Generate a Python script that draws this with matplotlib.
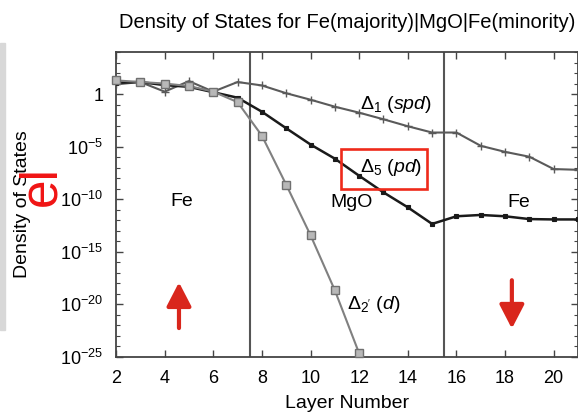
import matplotlib
matplotlib.use("Agg")
import matplotlib.pyplot as plt
import matplotlib.ticker as mticker
from matplotlib.patches import Rectangle
import numpy as np

plt.rcParams['font.family'] = ['Liberation Sans', 'DejaVu Sans']
plt.rcParams['mathtext.fontset'] = 'custom'
plt.rcParams['mathtext.rm'] = 'Liberation Sans'
plt.rcParams['mathtext.it'] = 'Liberation Sans:italic'
plt.rcParams['mathtext.bf'] = 'Liberation Sans:bold'

# ---- data ----
layers_d1 = [2, 3, 4, 5, 6, 7, 8, 9, 10, 11, 12, 13, 14, 15, 16, 17, 18, 19, 20, 21]
dos_d1 = [8.3, 14, 1.7, 17, 1.7, 14, 6.6, 1.2, 2.9e-1, 6.3e-2, 1.7e-2, 4.0e-3,
          8.7e-4, 2.2e-4, 2.2e-4, 1.2e-5, 3.2e-6, 1.1e-6, 7.4e-8, 6.3e-8]

layers_d5 = [2, 3, 4, 5, 6, 7, 8, 9, 10, 11, 12, 13, 14, 15, 16, 17, 18, 19, 20, 21]
dos_d5 = [12, 14, 7.1, 4.9, 1.5, 4.5e-1, 2.1e-2, 5.6e-4, 1.6e-5, 7.2e-7, 1.7e-8,
          4.5e-10, 1.7e-11, 4.5e-13, 2.4e-12, 3.2e-12, 2.4e-12, 1.3e-12, 1.2e-12, 1.2e-12]

layers_d2 = [2, 3, 4, 5, 6, 7, 8, 9, 10, 11, 12]
dos_d2 = [20, 14, 10, 5.8, 1.7, 1.7e-1, 1.1e-4, 2.4e-9, 3.8e-14, 2.2e-19, 2.2e-25]

x_ticks = [2, 4, 6, 8, 10, 12, 14, 16, 18, 20]
y_ticks = [1e-25, 1e-20, 1e-15, 1e-10, 1e-5, 1]
y_ticklabels = [r'$10^{-25}$', r'$10^{-20}$', r'$10^{-15}$', r'$10^{-10}$', r'$10^{-5}$', '1']
interfaces = [7.5, 15.5]

W, H = 578, 419
fig = plt.figure(figsize=(W / 100, H / 100), dpi=100)
ax = fig.add_axes([116 / W, (H - 357) / H, 462 / W, 305 / H])

# grey strip at left edge
fig.patches.append(Rectangle((0, (H - 330) / H), 5 / W, 287 / H,
                             transform=fig.transFigure, color='#d8d8d8', zorder=0))

ax.plot(layers_d1, dos_d1, color='#5a5a5a', lw=1.5, marker='+', ms=6, mew=1.0, zorder=3)
ax.plot(layers_d5, dos_d5, color='#1a1a1a', lw=1.8, marker='s', ms=3.5, mew=0.8, zorder=4)
ax.plot(layers_d2, dos_d2, color='#808080', lw=1.5, marker='s', ms=5.5, mfc='#b8b8b8',
        mec='#707070', mew=1.0, zorder=5, clip_on=False)

for xv in interfaces:
    ax.axvline(xv, color='#555555', lw=1.5, zorder=2)

ax.set_yscale('log')
ax.set_xlim(2, 21)
ax.set_ylim(1e-25, 1e4)
ax.xaxis.set_major_locator(mticker.FixedLocator(x_ticks))
ax.xaxis.set_minor_locator(mticker.NullLocator())
ax.yaxis.set_major_locator(mticker.FixedLocator(y_ticks))
ax.yaxis.set_major_formatter(mticker.FixedFormatter(y_ticklabels))
ax.yaxis.set_minor_locator(mticker.LogLocator(base=10, subs=(1.0,), numticks=100))
ax.yaxis.set_minor_formatter(mticker.NullFormatter())
ax.tick_params(which='both', direction='in', top=True, right=True, color='#444444')
ax.tick_params(which='major', length=5, width=1.0, labelsize=13, pad=9)
ax.tick_params(which='minor', length=3, width=0.8)
for s in ax.spines.values():
    s.set_color('#444444')
    s.set_linewidth(1.3)

ax.set_xlabel('Layer Number', fontsize=14, labelpad=6)
ax.set_ylabel('Density of States', fontsize=14)
ax.yaxis.set_label_coords(-0.183, 0.5)
ax.set_title('Density of States for Fe(majority)|MgO|Fe(minority)', fontsize=14.5, pad=17)

# region / curve labels
ax.text(4.72, 10**-10.67, 'Fe', fontsize=14, ha='center', va='baseline')
ax.text(11.69, 10**-10.77, 'MgO', fontsize=14, ha='center', va='baseline')
ax.text(18.56, 10**-10.77, 'Fe', fontsize=14, ha='center', va='baseline')
ax.text(12.04, 10**-1.45, r'$\Delta_1$ ($spd$)', fontsize=14, ha='left', va='baseline')
ax.text(12.04, 10**-7.45, r'$\Delta_5$ ($pd$)', fontsize=14, ha='left', va='baseline')
ax.text(11.5, 10**-20.4, r"$\Delta_{2'}$ ($d$)", fontsize=14, ha='left', va='baseline')

# red box around Delta_5 label
ax.add_patch(Rectangle((11.26, 10**-9.0), 14.8 - 11.26, 10**-5.21 - 10**-9.0,
                       fill=False, ec='#ee2a1b', lw=1.9, zorder=6))

# spin arrows
arrow_kw = dict(arrowstyle='-|>,head_length=1.45,head_width=0.75', color='#d9261c',
                lw=3, shrinkA=0, shrinkB=0, mutation_scale=10)
ax.annotate('', xy=(4.59, 10**-17.9), xytext=(4.59, 10**-22.25), arrowprops=arrow_kw)
ax.annotate('', xy=(18.28, 10**-22.3), xytext=(18.28, 10**-17.7), arrowprops=arrow_kw)

# overlaid red "el"
fig.text(55 / W, 1 - 186 / H, 'el', fontsize=37, color='#f01414', rotation=90,
         rotation_mode='anchor', ha='center', va='baseline')

fig.savefig('out.png', dpi=100)
